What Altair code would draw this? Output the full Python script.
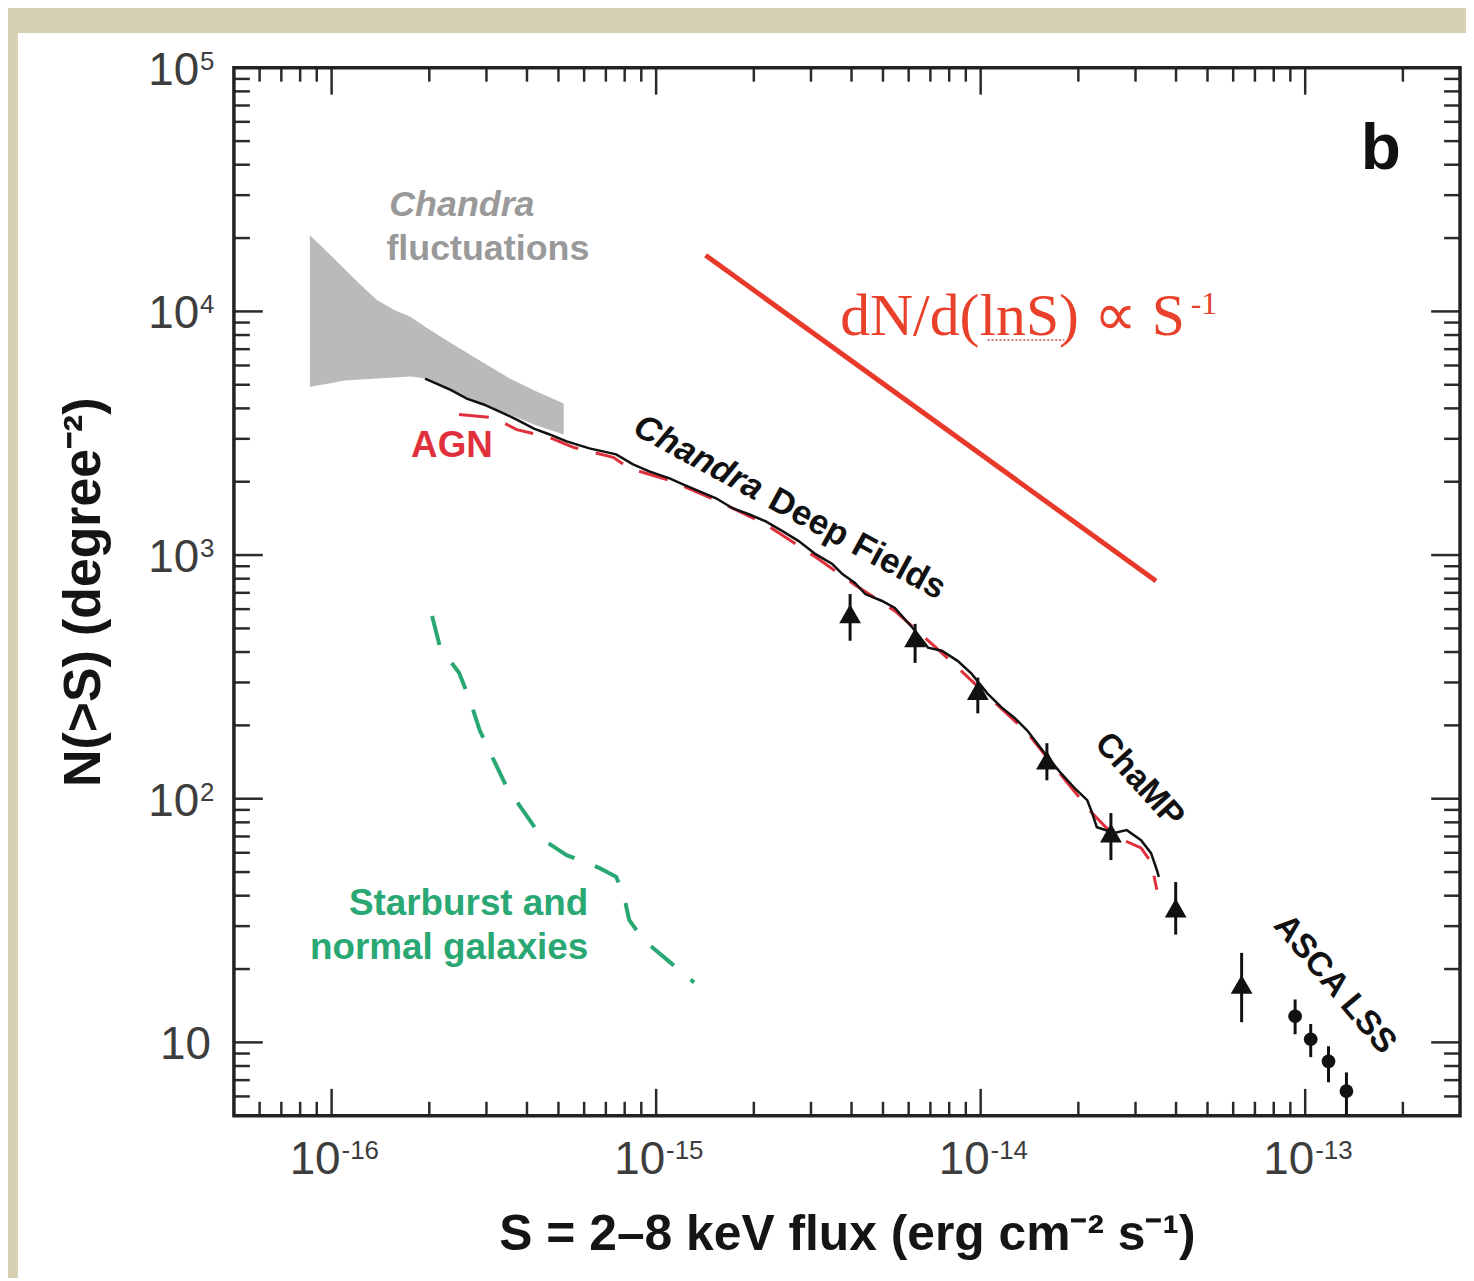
import altair as alt
import pandas as pd

# ---------------- values ----------------
# Chandra Deep Fields, cumulative counts (black solid)
cdf_flux = [1.94e-16, 2.32e-16, 2.61e-16, 2.94e-16, 3.40e-16, 3.72e-16, 4.20e-16, 4.70e-16,
            5.30e-16, 6.23e-16, 7.53e-16, 8.49e-16, 9.52e-16, 1.10e-15, 1.21e-15, 1.36e-15,
            1.53e-15, 1.72e-15, 1.93e-15, 2.17e-15, 2.45e-15, 2.75e-15, 3.10e-15, 3.49e-15,
            3.75e-15, 4.10e-15, 4.41e-15, 4.97e-15, 5.44e-15, 6.28e-15, 6.88e-15, 7.59e-15,
            8.49e-15, 9.37e-15, 1.05e-14, 1.16e-14, 1.27e-14, 1.39e-14, 1.61e-14, 1.77e-14,
            1.94e-14, 2.13e-14, 2.19e-14, 2.28e-14, 2.58e-14, 2.82e-14, 3.12e-14, 3.35e-14,
            3.49e-14, 3.54e-14]
cdf_n = [5297, 4775, 4387, 4150, 3810, 3600, 3306, 3126,
         2927, 2740, 2589, 2356, 2206, 2064, 1951, 1827,
         1710, 1557, 1471, 1377, 1254, 1141, 1009, 919,
         836, 768, 692, 648, 607, 489, 417, 405,
         368, 326, 270, 237, 215, 191, 148, 127,
         111, 98.6, 89.7, 76.4, 72.3, 74.3, 67.6, 59.8,
         51.0, 47.8]

# AGN model (red dashed)
agn_flux = [2.47e-16, 3.16e-16, 3.72e-16, 4.70e-16, 5.56e-16, 7.38e-16, 8.26e-16, 1.10e-15,
            1.53e-15, 2.17e-15, 3.10e-15, 4.10e-15, 5.44e-15, 7.59e-15, 1.05e-14, 1.39e-14,
            1.77e-14, 2.19e-14, 2.58e-14, 3.12e-14, 3.35e-14, 3.49e-14]
agn_n = [3776, 3664, 3271, 3040, 2768, 2517, 2270, 2028,
         1679, 1340, 982, 754, 590, 397, 265, 187,
         125, 88.2, 70.3, 62.8, 55.0, 42.3]

# Starburst and normal galaxies (green dashed)
sb_flux = [2.04e-16, 2.16e-16, 2.47e-16, 2.67e-16, 2.86e-16, 3.16e-16, 3.47e-16, 3.94e-16,
           4.50e-16, 5.30e-16, 6.68e-16, 7.53e-16, 7.92e-16, 8.26e-16, 9.12e-16, 1.10e-15,
           1.31e-15]
sb_n = [562, 417, 329, 253, 191, 144, 111, 87.3,
        67.6, 58.7, 52.0, 47.8, 41.1, 31.8, 26.4, 21.4,
        17.6]

# Chandra fluctuations band (grey)
fl_flux = [8.57e-17, 9.72e-17, 1.096e-16, 1.23e-16, 1.38e-16, 1.56e-16, 1.75e-16,
           1.94e-16, 2.22e-16, 2.80e-16, 3.54e-16, 4.28e-16, 5.19e-16]
fl_hi = [20560, 17500, 14930, 12830, 11140, 10140, 9500, 8650, 7730, 6400, 5300, 4690, 4190]
fl_lo = [4910, 5050, 5200, 5250, 5300, 5350, 5400, 5300, 4820, 4270, 3776, 3400, 3126]

# ChaMP points (triangles with error bars)
champ_flux = [3.96e-15, 6.28e-15, 9.8e-15, 1.60e-14, 2.52e-14, 3.99e-14, 6.37e-14]
champ_n = [574, 458, 278, 144, 72.3, 35.6, 17.3]
champ_lo = [445, 361, 224, 119, 56, 27.7, 12.1]
champ_hi = [692, 522, 314, 169, 87.3, 45.5, 23.3]

# ASCA LSS points (dots with error bars)
asca_flux = [9.31e-14, 1.04e-13, 1.18e-13, 1.34e-13]
asca_n = [12.8, 10.3, 8.36, 6.31]
asca_lo = [10.8, 8.7, 6.86, 5.0]
asca_hi = [15.0, 11.9, 9.64, 7.53]

# dN/d(lnS) ~ S^-1 reference line (red)
slope_flux = [1.42e-15, 3.47e-14]
slope_n = [17000, 783]

# dotted underline beneath "lnS" in the formula
underline_flux = [1.05e-14, 1.81e-14]
underline_n = [7640, 7640]

# axis ticks and tick labels
x_major = [1e-16, 1e-15, 1e-14, 1e-13]
x_base = ["10", "10", "10", "10"]
x_sup = ["-16", "-15", "-14", "-13"]
x_minor = [6e-17, 7e-17, 8e-17, 9e-17] + [m * 10.0 ** e for e in (-16, -15, -14) for m in range(2, 10)] + [2e-13]
y_major = [10, 100, 1000, 10000, 100000]
y_base = ["10", "10", "10", "10", "10"]
y_sup = ["", "2", "3", "4", "5"]
y_minor = [6, 7, 8, 9] + [m * 10 ** e for e in (1, 2, 3, 4) for m in range(2, 10)]

# annotation anchors (data coordinates)
fluct_lbl = (["Chandra", "fluctuations"], [2.52e-16, 3.03e-16], [27300, 18030])
agn_lbl = (["AGN"], [2.35e-16], [2793])
cdf_lbl1 = (["Chandra"], [1.352e-15], [2517])
cdf_lbl2 = (["Deep Fields"], [4.17e-15], [1113])
champ_lbl = (["ChaMP"], [3.08e-14], [119])
asca_lbl = (["ASCA LSS"], [1.233e-13], [17.3])
sb_lbl = (["Starburst and", "normal galaxies"], [6.18e-16, 6.18e-16], [37.0, 24.5])
formula_lbl = (["dN/d(lnS) \u221d S"], [3.69e-15], [8017])
formula_sup = (["-1"], [4.44e-14], [9772])
panel_lbl = (["b"], [1.71e-13], [46200])

# ---------------- chart ----------------
W, H = 1232, 1053
SANS = "Liberation Sans, Arial, Helvetica, sans-serif"
SERIF = "Liberation Serif, Times New Roman, serif"

XS = alt.Scale(type="log", domain=[5e-17, 3e-13], nice=False)
YS = alt.Scale(type="log", domain=[5, 1e5], nice=False)
XA = alt.Axis(title="S = 2\u20138 keV flux (erg cm\u207b\u00b2 s\u207b\u00b9)", labels=False, ticks=False,
              domain=False, grid=False, titleFont=SANS, titleFontSize=50,
              titleFontWeight="bold", titleColor="#151515", titlePadding=94, zindex=2)
YA = alt.Axis(title="N(>S) (degree\u207b\u00b2)", labels=False, ticks=False, domain=False, grid=False,
              titleFont=SANS, titleFontSize=52, titleFontWeight="bold", titleColor="#151515",
              titlePadding=124, zindex=2)


def X(f):
    return alt.X(f, type="quantitative", scale=XS, axis=XA)


def Y(f):
    return alt.Y(f, type="quantitative", scale=YS, axis=YA)


layers = []

# white panel over the beige photo border
layers.append(alt.Chart(pd.DataFrame({"k": [0]})).mark_rect(color="white").encode(
    x=alt.value(-217), x2=alt.value(W + 6), y=alt.value(-35), y2=alt.value(H + 170)))

# grey fluctuation band
layers.append(alt.Chart(pd.DataFrame({"x": fl_flux, "hi": fl_hi, "lo": fl_lo})).mark_area(
    color="#b9babc", opacity=1).encode(x=X("x"), y=Y("hi"), y2="lo"))

# red S^-1 line
layers.append(alt.Chart(pd.DataFrame({"x": slope_flux, "y": slope_n})).mark_line(
    color="#e8392b", strokeWidth=5).encode(x=X("x"), y=Y("y")))

# green starburst curve
layers.append(alt.Chart(pd.DataFrame({"x": sb_flux, "y": sb_n})).mark_line(
    color="#2aa874", strokeWidth=4, strokeDash=[30, 22]).encode(x=X("x"), y=Y("y")))

# red dashed AGN curve
layers.append(alt.Chart(pd.DataFrame({"x": agn_flux, "y": agn_n})).mark_line(
    color="#e0303c", strokeWidth=3, strokeDash=[30, 18]).encode(x=X("x"), y=Y("y")))

# black Chandra Deep Fields curve
layers.append(alt.Chart(pd.DataFrame({"x": cdf_flux, "y": cdf_n})).mark_line(
    color="#111111", strokeWidth=2.5).encode(x=X("x"), y=Y("y")))

# ChaMP error bars + triangles
champ_df = pd.DataFrame({"x": champ_flux, "y": champ_n, "lo": champ_lo, "hi": champ_hi})
layers.append(alt.Chart(champ_df).mark_rule(color="#111111", strokeWidth=3).encode(
    x=X("x"), y=Y("lo"), y2="hi"))
layers.append(alt.Chart(champ_df).mark_point(shape="triangle-up", filled=True, size=480,
                                             color="#111111", opacity=1).encode(x=X("x"), y=Y("y")))

# ASCA error bars + dots
asca_df = pd.DataFrame({"x": asca_flux, "y": asca_n, "lo": asca_lo, "hi": asca_hi})
layers.append(alt.Chart(asca_df).mark_rule(color="#111111", strokeWidth=3).encode(
    x=X("x"), y=Y("lo"), y2="hi"))
layers.append(alt.Chart(asca_df).mark_point(shape="circle", filled=True, size=190,
                                            color="#111111", opacity=1).encode(x=X("x"), y=Y("y")))

# inward ticks on all four sides
TK = dict(color="#2a2a2a", strokeWidth=2.5)
for vals, ln in ((x_major, 27), (x_minor, 14)):
    d = pd.DataFrame({"v": vals})
    layers.append(alt.Chart(d).mark_rule(**TK).encode(x=X("v"), y=alt.value(H), y2=alt.value(H - ln)))
    layers.append(alt.Chart(d).mark_rule(**TK).encode(x=X("v"), y=alt.value(0), y2=alt.value(ln)))
for vals, ln in ((y_major, 29), (y_minor, 16)):
    d = pd.DataFrame({"v": vals})
    layers.append(alt.Chart(d).mark_rule(**TK).encode(y=Y("v"), x=alt.value(0), x2=alt.value(ln)))
    layers.append(alt.Chart(d).mark_rule(**TK).encode(y=Y("v"), x=alt.value(W), x2=alt.value(W - ln)))

# frame
layers.append(alt.Chart(pd.DataFrame({"k": [0]})).mark_rect(
    filled=False, stroke="#222222", strokeWidth=3.5).encode(
    x=alt.value(0), x2=alt.value(W), y=alt.value(0), y2=alt.value(H)))

# tick labels
LBL = dict(font=SANS, color="#3d3d3d")
xl = pd.DataFrame({"v": x_major, "b": x_base, "s": x_sup})
layers.append(alt.Chart(xl).mark_text(align="right", baseline="alphabetic", dx=9, fontSize=46, **LBL).encode(
    x=X("v"), y=alt.value(H + 59), text="b:N"))
layers.append(alt.Chart(xl).mark_text(align="left", baseline="alphabetic", dx=10, fontSize=26, **LBL).encode(
    x=X("v"), y=alt.value(H + 43), text="s:N"))
yl = pd.DataFrame({"v": y_major, "b": y_base, "s": y_sup})
yl_sup = yl[yl["s"] != ""]
yl_plain = yl[yl["s"] == ""]
layers.append(alt.Chart(yl_sup).mark_text(align="right", baseline="alphabetic", dy=17, fontSize=46, **LBL).encode(
    y=Y("v"), x=alt.value(-35), text="b:N"))
layers.append(alt.Chart(yl_sup).mark_text(align="left", baseline="alphabetic", dy=2, fontSize=26, **LBL).encode(
    y=Y("v"), x=alt.value(-34), text="s:N"))
layers.append(alt.Chart(yl_plain).mark_text(align="right", baseline="alphabetic", dy=17, fontSize=46, **LBL).encode(
    y=Y("v"), x=alt.value(-23), text="b:N"))


def text_layer(spec, **props):
    t, xs, ys = spec
    d = pd.DataFrame({"x": xs, "y": ys, "t": t})
    return alt.Chart(d).mark_text(**props).encode(x=X("x"), y=Y("y"), text="t:N")


layers.append(text_layer((fluct_lbl[0][:1], fluct_lbl[1][:1], fluct_lbl[2][:1]), font=SANS, fontSize=36,
                         fontWeight="bold", fontStyle="italic", color="#999999", baseline="middle"))
layers.append(text_layer((fluct_lbl[0][1:], fluct_lbl[1][1:], fluct_lbl[2][1:]), font=SANS, fontSize=36,
                         fontWeight="bold", color="#999999", baseline="middle"))
layers.append(text_layer(agn_lbl, font=SANS, fontSize=37, fontWeight="bold", color="#e0303c", baseline="middle"))
layers.append(text_layer(cdf_lbl1, font=SANS, fontSize=35, fontWeight="bold", fontStyle="italic",
                         color="#111111", baseline="middle", angle=28.5))
layers.append(text_layer(cdf_lbl2, font=SANS, fontSize=35, fontWeight="bold",
                         color="#111111", baseline="middle", angle=28.5))
layers.append(text_layer(champ_lbl, font=SANS, fontSize=34, fontWeight="bold",
                         color="#111111", baseline="middle", angle=48))
layers.append(text_layer(asca_lbl, font=SANS, fontSize=34, fontWeight="bold",
                         color="#111111", baseline="middle", angle=50))
layers.append(text_layer(sb_lbl, font=SANS, fontSize=37, fontWeight="bold", color="#2aa874",
                         align="right", baseline="middle"))
layers.append(text_layer(formula_lbl, font=SERIF, fontSize=60, color="#e8402a",
                         align="left", baseline="alphabetic"))
layers.append(text_layer(formula_sup, font=SERIF, fontSize=32, color="#e8402a",
                         align="left", baseline="alphabetic"))
layers.append(alt.Chart(pd.DataFrame({"x": underline_flux, "y": underline_n})).mark_line(
    color="#c04a4a", strokeWidth=1.5, strokeDash=[2, 2]).encode(x=X("x"), y=Y("y")))
layers.append(text_layer(panel_lbl, font=SANS, fontSize=66, fontWeight="bold", color="#111111",
                         baseline="middle"))

chart = alt.layer(*layers).properties(
    width=W, height=H,
    padding={"left": 227, "top": 57, "right": 6, "bottom": 160},
    autosize=alt.AutoSizeParams(type="none"),
    background="#d6d1b3",
).configure_view(strokeWidth=0)

chart.save("out.html", embed_options={"renderer": "svg", "actions": False})
